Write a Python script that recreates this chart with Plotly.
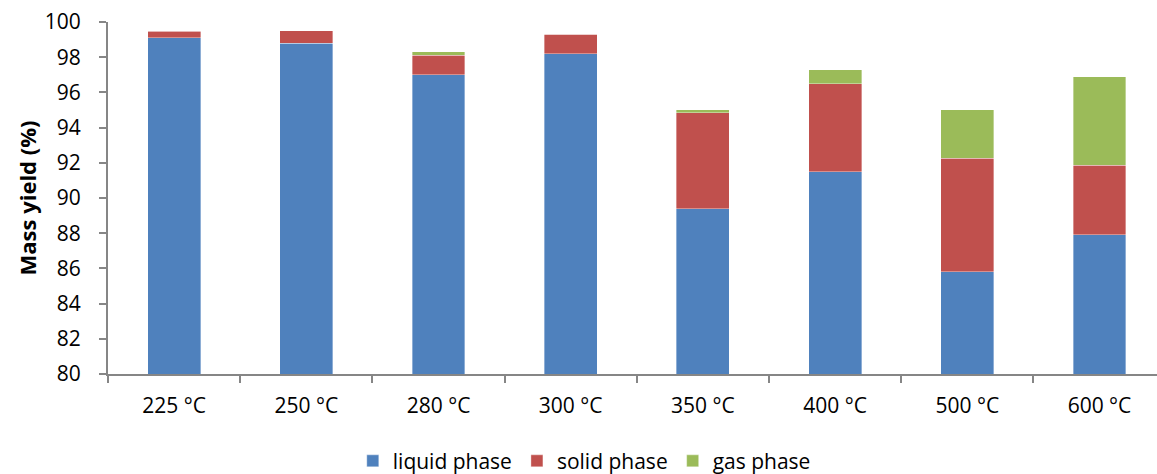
import plotly.graph_objects as go

# temperatures and phase yields (%)
temperatures = ['225 °C', '250 °C', '280 °C', '300 °C', '350 °C', '400 °C', '500 °C', '600 °C']
liquid_phase = [99.1, 98.8, 97.0, 98.2, 89.4, 91.5, 85.8, 87.9]
solid_phase = [0.38, 0.7, 1.1, 1.1, 5.45, 5.0, 6.45, 3.95]
gas_phase = [0.02, 0.0, 0.2, 0.0, 0.17, 0.8, 2.77, 5.05]

y_ticks = list(range(80, 101, 2))

FONT = 'Open Sans'
AXIS_GREY = '#868686'

fig = go.Figure()

series = [
    ('liquid phase', liquid_phase, '#4F81BD'),
    ('solid phase', solid_phase, '#C0504D'),
    ('gas phase', gas_phase, '#9BBB59'),
]

for name, vals, color in series:
    fig.add_trace(go.Bar(
        x=temperatures,
        y=vals,
        name=name,
        marker=dict(color=color, line=dict(width=0.6, color='rgba(255,255,255,0.6)')),
        width=0.4,
    ))

fig.update_layout(
    barmode='stack',
    width=1157,
    height=474,
    margin=dict(l=108, r=0, t=22, b=100),
    plot_bgcolor='white',
    paper_bgcolor='white',
    font=dict(family=FONT, size=21, color='black'),
    showlegend=True,
    legend=dict(
        orientation='h',
        x=0.505, xanchor='center', xref='container',
        y=0.027, yanchor='middle', yref='container',
        font=dict(size=21),
        traceorder='normal',
    ),
    xaxis=dict(
        range=[-0.5, 7.435],
        showline=True, linecolor=AXIS_GREY, linewidth=2,
        ticks='outside', tickson='boundaries', ticklen=7, tickcolor=AXIS_GREY, tickwidth=2,
        showgrid=False, zeroline=False,
        ticklabelstandoff=12,
    ),
    yaxis=dict(
        range=[80, 100],
        tickvals=y_ticks,
        showline=True, linecolor=AXIS_GREY, linewidth=2,
        ticks='outside', ticklen=7, tickcolor=AXIS_GREY, tickwidth=2,
        showgrid=False, zeroline=False,
        ticklabelstandoff=14,
        title=dict(text='<b>Mass yield (%)</b>', font=dict(size=22), standoff=2),
    ),
)

fig.write_html("out.html", config={'displayModeBar': False},
               post_script="document.body.style.margin='0';")
